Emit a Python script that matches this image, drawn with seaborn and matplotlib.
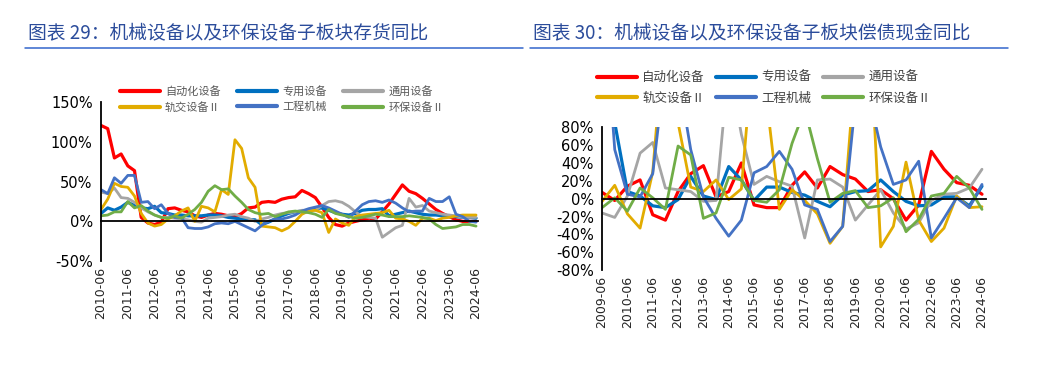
import numpy as np
import pandas as pd
import matplotlib
matplotlib.use("Agg")
import matplotlib.pyplot as plt
from matplotlib.lines import Line2D
import seaborn as sns

# ---- data: left chart, quarterly 2010-06 .. 2024-06 (inventory YoY, %) ----
inv_auto = [121, 117, 80, 85, 70, 64, 5, -2, -4, -1, 16, 17, 14, 12, 7, 5, 8, 10, 9, 7,
            6, 10, 17, 18, 24, 25, 24, 28, 30, 31, 39, 35, 30, 18, 5, -4, -6, -2, 0, 2,
            4, 3, 12, 22, 34, 46, 38, 35, 29, 22, 15, 10, 6, 2, 0, 0, 0]
inv_special = [10, 17, 14, 18, 24, 20, 17, 16, 19, 11, 10, 8, 8, 7, 7, 7, 8, 8, 7, 5,
               4, 3, 2, 2, -4, -1, 3, 7, 10, 12, 13, 14, 16, 17, 14, 11, 9, 8, 10, 14,
               15, 15, 16, 7, 9, 11, 13, 11, 9, 8, 8, 7, 6, 6, 5, 5, 4]
inv_general = [37, 35, 42, 30, 29, 24, 17, 12, 8, 5, 5, 4, 3, 2, 0, -1, 4, 5, 6, 8,
               9, 6, 4, 0, 3, 5, 8, 10, 11, 12, 14, 14, 14, 20, 25, 26, 24, 19, 12, 6,
               5, 4, -20, -14, -8, -5, 29, 18, 20, 13, 11, 9, 8, 7, 5, 5, 5]
inv_rail = [15, 28, 48, 44, 43, 32, 10, -2, -6, -4, 3, 7, 13, 17, 0, 19, 17, 12, 40, 34,
            103, 92, 55, 43, -6, -7, -8, -12, -8, 0, 9, 13, 14, 11, -14, 3, -2, -5, 6, 8,
            9, 10, 11, 14, 4, 3, 0, -5, 4, 4, 1, 4, 5, 7, 8, 8, 8]
inv_construct = [40, 35, 55, 48, 58, 58, 24, 25, 16, 21, 10, 5, 5, -8, -9, -9, -7, -3, -2, -3,
                 0, -4, -8, -12, -5, 0, 3, 3, 5, 8, 13, 16, 18, 20, 17, 13, 9, 5, 13, 21,
                 25, 26, 24, 27, 23, 17, 12, 13, 13, 29, 25, 25, 31, 9, 6, 0, -1]
inv_env = [7, 8, 12, 12, 25, 17, 20, 13, 8, 5, 4, 7, 4, 9, 15, 24, 38, 45, 40, 41,
           32, 24, 15, 11, 9, 10, 6, 9, 12, 13, 12, 11, 9, 5, 15, 10, 8, 6, 4, 5,
           7, 9, 8, 6, 6, 6, 7, 6, 5, 3, -4, -9, -8, -7, -4, -4, -6]
inv_ticks = [f"{y}-06" for y in range(2010, 2025)]

# ---- data: right chart, half-yearly 2009-06 .. 2024-06 (debt repayment cash YoY, %) ----
debt_auto = [7, -2, 14, 21, -18, -24, 8, 28, 37, 2, 8, 40, -7, -10, -10, 15,
             30, 12, 36, 27, 22, 8, 10, 0, -24, -7, 53, 33, 18, 15, 5]
debt_special = [200, 85, 8, 3, -8, -10, -1, 25, 3, -1, 36, 21, -2, 13, 13, 7,
                4, -3, -9, 4, 8, 9, 21, 8, -3, -8, -7, 2, 2, -8, 14]
debt_general = [-16, -21, 3, 51, 63, 12, 10, 8, -3, -2, 150, 72, 16, 25, 19, 14,
                -44, 21, 22, 13, -24, -7, 10, -16, -34, -27, -2, 5, 6, 12, 33]
debt_rail = [-3, 15, -17, -33, 30, 200, 85, 13, 8, 21, -1, 11, 180, 110, -12, 10,
             -2, -17, -50, -31, 150, 230, -54, -31, 41, -24, -48, -33, 3, -10, -9]
debt_construct = [250, 55, 5, 2, 28, 150, 140, 55, 2, -22, -42, -24, 29, 36, 53, 33,
                  -7, -12, -48, -31, 108, 120, 58, 16, 21, 42, -44, -22, 1, -10, 16]
debt_env = [-10, 1, -14, 12, 1, -12, 59, 49, -22, -16, 24, 21, -2, -4, 10, 62,
            100, 45, -4, 6, 9, -10, -8, 1, -37, -23, 3, 6, 25, 12, -12]
debt_ticks = [f"{y}-06" for y in range(2009, 2025)]

names = ["自动化设备", "专用设备", "通用设备", "轨交设备Ⅱ", "工程机械", "环保设备Ⅱ"]
colors = ["#FF0000", "#0070C0", "#A5A5A5", "#E2AC00", "#4472C4", "#70AD47"]
widths = [2.3, 2.3, 2.0, 2.0, 2.0, 2.0]

sns.set_style("white")
plt.rcParams['font.family'] = ['DejaVu Sans', 'Noto Sans CJK SC']
CJK = ['Noto Sans CJK SC', 'DejaVu Sans']

fig = plt.figure(figsize=(10.6, 3.7), dpi=100)
ax1 = fig.add_axes([0.0953, 0.2946, 0.3557, 0.4284])
ax2 = fig.add_axes([0.568, 0.270, 0.362, 0.386])


def draw_panel(ax, series, ticks, step, ylim, ystep):
    n = len(series[0])
    x = np.arange(n)
    for vals, name, c, lw in zip(series, names, colors, widths):
        sns.lineplot(x=x, y=vals, ax=ax, color=c, lw=lw, label=name)
    ax.set_xlim(0, n - 1 + 0.3)
    ax.set_ylim(*ylim)
    yt = np.arange(ylim[0], ylim[1] + 1, ystep)
    ax.set_yticks(yt)
    ax.set_yticklabels([f"{v}%" for v in yt], fontsize=10.5)
    for s in ['top', 'right']:
        ax.spines[s].set_visible(False)
    ax.spines['left'].set_color('black')
    ax.spines['left'].set_linewidth(1.3)
    # category axis crosses at 0, labels stay at the bottom
    ax.spines['bottom'].set_position(('data', 0))
    ax.spines['bottom'].set_color('black')
    ax.spines['bottom'].set_linewidth(1.3)
    pos = np.arange(0, n, step)
    ax.set_xticks(pos)
    ax.tick_params(axis='x', direction='out', length=4, width=1.2, colors='black',
                   labelbottom=False)
    ax.tick_params(axis='y', direction='out', length=4, width=1.2, colors='black', pad=2)
    sec = ax.secondary_xaxis('bottom')
    sec.set_xticks(pos)
    sec.set_xticklabels(ticks, rotation=90, fontsize=9)
    sec.tick_params(length=0, pad=4)
    sec.spines['bottom'].set_visible(False)
    ax.get_legend().remove()


draw_panel(ax1, [inv_auto, inv_special, inv_general, inv_rail, inv_construct, inv_env],
           inv_ticks, 4, (-50, 150), 50)
draw_panel(ax2, [debt_auto, debt_special, debt_general, debt_rail, debt_construct, debt_env],
           debt_ticks, 2, (-80, 80), 20)

# legends in row order
order = [0, 3, 1, 4, 2, 5]
handles = [Line2D([0], [0], color=colors[i], lw=3) for i in order]
labels = [names[i] for i in order]
fig.legend(handles, labels, loc='upper left', bbox_to_anchor=(0.113, 0.768), ncol=3,
           frameon=False, prop={'family': CJK, 'size': 8}, labelcolor='#595959',
           handlelength=3.6, handletextpad=0.45, columnspacing=1.5, labelspacing=0.45,
           borderpad=0, borderaxespad=0)
fig.legend(handles, labels, loc='upper left', bbox_to_anchor=(0.563, 0.808), ncol=3,
           frameon=False, prop={'family': CJK, 'size': 9}, labelcolor='#404040',
           handlelength=3.2, handletextpad=0.45, columnspacing=0.9, labelspacing=0.6,
           borderpad=0, borderaxespad=0)

# titles and blue rules
title_color = '#2B4C9B'
fig.text(28 / 1060, 1 - 33 / 370, "图表 29：机械设备以及环保设备子板块存货同比",
         family=CJK, fontsize=13.5, color=title_color, va='center', ha='left')
fig.text(533 / 1060, 1 - 33 / 370, "图表 30：机械设备以及环保设备子板块偿债现金同比",
         family=CJK, fontsize=13.5, color=title_color, va='center', ha='left')
fig.add_artist(Line2D([25 / 1060, 523 / 1060], [1 - 48 / 370] * 2, color='#3366CC', lw=1.1))
fig.add_artist(Line2D([530 / 1060, 1008 / 1060], [1 - 48 / 370] * 2, color='#3366CC', lw=1.1))

fig.savefig("out.png", dpi=100)
